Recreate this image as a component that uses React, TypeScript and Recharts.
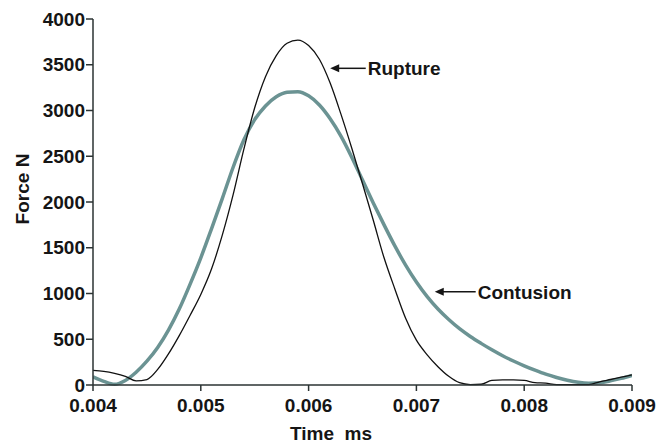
import React from 'react';
import { LineChart, Line, XAxis, YAxis, ReferenceLine } from 'recharts';

// time in ms-axis units, force in N
const timeTicks = [0.004, 0.005, 0.006, 0.007, 0.008, 0.009];
const forceTicks = [0, 500, 1000, 1500, 2000, 2500, 3000, 3500, 4000];

const ruptureTime = [
    0.004, 0.0041, 0.0042, 0.0043, 0.0044, 0.0045, 0.0046, 0.0047, 0.0048, 0.0049,
    0.005, 0.0051, 0.0052, 0.0053, 0.0054, 0.0055, 0.0056, 0.0057, 0.0058, 0.0059,
    0.006, 0.0061, 0.0062, 0.0063, 0.0064, 0.0065, 0.0066, 0.0067, 0.0068, 0.0069,
    0.007, 0.0071, 0.0072, 0.0073, 0.0074, 0.0075, 0.0076, 0.0077, 0.0078, 0.0079,
    0.008, 0.0081, 0.0082, 0.0083, 0.0084, 0.0085, 0.0086, 0.0087, 0.0088, 0.0089,
    0.009,
];
const ruptureForce = [
    160, 150, 128, 95, 45, 60, 170, 340, 540, 760,
    990, 1270, 1640, 2080, 2580, 3030, 3370, 3600, 3735, 3770,
    3710, 3560, 3300, 2960, 2590, 2200, 1800, 1390, 1050, 730,
    490, 330, 200, 95, 25, 5, 8, 50, 55, 55,
    50, 25, 20, 5, 5, 5, 5, 35, 60, 85,
    110,
];

const contusionTime = [
    0.004, 0.0041, 0.0042, 0.0043, 0.0044, 0.0045, 0.0046, 0.0047, 0.0048, 0.0049,
    0.005, 0.0051, 0.0052, 0.0053, 0.0054, 0.0055, 0.0056, 0.0057, 0.0058, 0.0059,
    0.006, 0.0061, 0.0062, 0.0063, 0.0064, 0.0065, 0.0066, 0.0067, 0.0068, 0.0069,
    0.007, 0.0071, 0.0072, 0.0073, 0.0074, 0.0075, 0.0076, 0.0077, 0.0078, 0.0079,
    0.008, 0.0081, 0.0082, 0.0083, 0.0084, 0.0085, 0.0086, 0.0087, 0.0088, 0.0089,
    0.009,
];
const contusionForce = [
    90, 40, 8, 50, 140, 260, 410, 600, 830, 1100,
    1390, 1710, 2040, 2380, 2680, 2900, 3050, 3150, 3200, 3205,
    3160, 3060, 2910, 2720, 2490, 2240, 1990, 1750, 1520, 1310,
    1125, 965, 830, 715, 615, 530, 455, 385, 320, 262,
    210, 162, 118, 82, 52, 30, 20, 25, 45, 72,
    105,
];

// arrow annotations: [tail, tip] in data units
const ruptureArrow = [
    { x: 0.00653, y: 3461 },
    { x: 0.0062, y: 3461 },
];
const contusionArrow = [
    { x: 0.00755, y: 1020 },
    { x: 0.00717, y: 1020 },
];

const rupture = ruptureTime.map((t, i) => ({ t, v: ruptureForce[i] }));
const contusion = contusionTime.map((t, i) => ({ t, v: contusionForce[i] }));

const FONT = '"Liberation Sans", Arial, sans-serif';
const INK = '#151515';
const AXIS = '#2b3333';

const arrowShape = (text: string) => (props: any) => {
    const { x1, y1, x2, y2 } = props;
    // x1 = tail, x2 = tip
    return (
        <g>
            <line x1={x1} y1={y1} x2={x2 + 6} y2={y2} stroke={INK} strokeWidth={1.5} />
            <polygon
                points={`${x2},${y2} ${x2 + 9},${y2 - 4} ${x2 + 9},${y2 + 4}`}
                fill={INK}
            />
            <text
                x={x1 + 2}
                y={y1}
                dy="0.36em"
                fontFamily={FONT}
                fontWeight="bold"
                fontSize={19}
                fill={INK}
            >
                {text}
            </text>
        </g>
    );
};

export default function App() {
    return (
        <div style={{ position: 'absolute', left: 0, top: 0 }}>
            <LineChart
                width={669}
                height={445}
                margin={{ top: 19, right: 37, left: 0, bottom: 0 }}
            >
                <XAxis
                    type="number"
                    dataKey="t"
                    domain={[0.004, 0.009]}
                    ticks={timeTicks}
                    tickFormatter={(v: number) => v.toFixed(3)}
                    allowDataOverflow
                    height={60}
                    tickSize={6}
                    tickMargin={8}
                    stroke={AXIS}
                    strokeWidth={1.5}
                    tick={{ fill: INK, fontSize: 19, fontWeight: 'bold', fontFamily: FONT }}
                    label={{
                        content: () => (
                            <text
                                x={331}
                                y={440}
                                textAnchor="middle"
                                fontFamily={FONT}
                                fontWeight="bold"
                                fontSize={19}
                                fill={INK}
                                style={{ whiteSpace: 'pre' }}
                            >
                                {'Time  ms'}
                            </text>
                        ),
                    }}
                />
                <YAxis
                    type="number"
                    domain={[0, 4000]}
                    ticks={forceTicks}
                    width={93}
                    tickSize={7}
                    tickMargin={1}
                    stroke={AXIS}
                    strokeWidth={1.5}
                    tick={{ fill: INK, fontSize: 19, fontWeight: 'bold', fontFamily: FONT }}
                    label={{
                        content: () => (
                            <text
                                x={22}
                                y={189}
                                transform="rotate(-90 22 189)"
                                textAnchor="middle"
                                dy="0.36em"
                                fontFamily={FONT}
                                fontWeight="bold"
                                fontSize={19}
                                fill={INK}
                            >
                                Force N
                            </text>
                        ),
                    }}
                />
                <Line
                    data={contusion}
                    dataKey="v"
                    type="monotone"
                    stroke="#6b9393"
                    strokeWidth={3.5}
                    dot={false}
                    isAnimationActive={false}
                />
                <Line
                    data={rupture}
                    dataKey="v"
                    type="monotone"
                    stroke="#111"
                    strokeWidth={1.3}
                    dot={false}
                    isAnimationActive={false}
                />
                <ReferenceLine
                    segment={ruptureArrow}
                    shape={arrowShape('Rupture')}
                />
                <ReferenceLine
                    segment={contusionArrow}
                    shape={arrowShape('Contusion')}
                />
            </LineChart>
        </div>
    );
}
